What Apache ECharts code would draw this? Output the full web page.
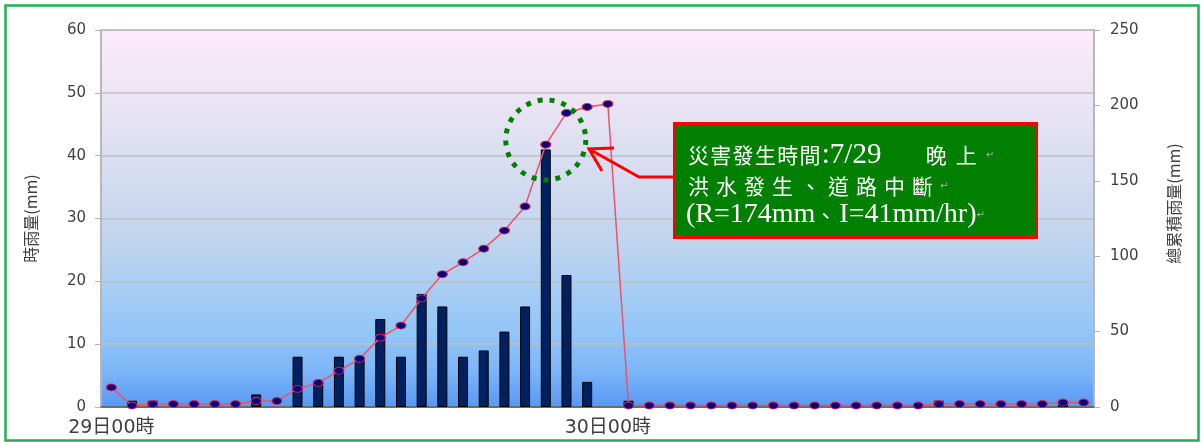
<!DOCTYPE html>
<html>
<head>
<meta charset="utf-8">
<title>時雨量</title>
<script src="https://cdn.jsdelivr.net/npm/echarts@6/dist/echarts.min.js"></script>
<style>
  html, body { margin: 0; padding: 0; background: #fff; }
  #chart { width: 1201px; height: 442px; }
</style>
</head>
<body>
<div id="chart"></div>
<script>
// 時間軸: 29日00時 ~ 30日23時
var days = ['29日', '30日'];
var hours = [];
days.forEach(function (d) {
  for (var h = 0; h < 24; h++) {
    hours.push(d + (h < 10 ? '0' + h : h) + '時');
  }
});

// 時雨量 (mm)
var hourlyRain = [
  0, 1, 1, 0, 0, 0, 0, 2, 0, 8, 4, 8, 8, 14, 8, 18, 16, 8, 9, 12, 16, 41, 21, 4,
  0, 1, 0, 0, 0, 0, 0, 0, 0, 0, 0, 0, 0, 0, 0, 0, 1, 0, 0, 0, 0, 0, 1, 0
];

// 總累積雨量 (mm)
var totalRain = [
  13, 1, 2, 2, 2, 2, 2, 4, 4, 12, 16, 24, 32, 46, 54, 72, 88, 96, 105, 117, 133, 174, 195, 199,
  201, 1, 1, 1, 1, 1, 1, 1, 1, 1, 1, 1, 1, 1, 1, 1, 2, 2, 2, 2, 2, 2, 3, 3
];

var leftTicks = { min: 0, max: 60, interval: 10 };
var rightTicks = { min: 0, max: 250, interval: 50 };

var cjk = '"Noto Sans CJK TC", "Noto Sans CJK SC", sans-serif';
var serif = '"Liberation Serif", "Noto Sans CJK TC", serif';
var labelFont = '"DejaVu Sans", "Noto Sans CJK TC", sans-serif';

var myChart = echarts.init(document.getElementById('chart'));

// 0 mm 的柱子不畫邊框
var barData = hourlyRain.map(function (v) {
  return v === 0 ? { value: v, itemStyle: { borderWidth: 0 } } : v;
});

var option = {
  animation: false,
  backgroundColor: '#fff',
  grid: {
    left: 101,
    right: 107,
    top: 30,
    bottom: 35,
    show: true,
    borderColor: '#b4b4b4',
    borderWidth: 1.5,
    backgroundColor: new echarts.graphic.LinearGradient(0, 0, 0, 1, [
      { offset: 0, color: '#fdeafa' },
      { offset: 0.18, color: '#ece5f4' },
      { offset: 0.55, color: '#c2d5ee' },
      { offset: 0.8, color: '#93c6f8' },
      { offset: 0.9, color: '#7db6f8' },
      { offset: 1, color: '#5898f5' }
    ])
  },
  xAxis: {
    type: 'category',
    data: hours,
    boundaryGap: true,
    axisLine: { lineStyle: { color: '#505050', width: 1.5 } },
    axisTick: { inside: true, length: 4, lineStyle: { color: '#303030' } },
    axisLabel: {
      interval: 23,
      margin: 12,
      color: '#404040',
      fontSize: 19,
      fontFamily: labelFont
    },
    splitLine: { show: false }
  },
  yAxis: [
    {
      type: 'value',
      min: leftTicks.min,
      max: leftTicks.max,
      interval: leftTicks.interval,
      name: '時雨量(mm)',
      nameLocation: 'middle',
      nameGap: 62,
      nameTextStyle: { color: '#404040', fontSize: 16, fontFamily: cjk },
      axisLine: { show: true, lineStyle: { color: '#b4b4b4', width: 1.5 } },
      axisTick: { show: true, length: 6, lineStyle: { color: '#b4b4b4' } },
      axisLabel: { margin: 15, color: '#404040', fontSize: 15, fontFamily: labelFont },
      splitLine: { lineStyle: { color: '#bfbfbf', width: 1.5 } }
    },
    {
      type: 'value',
      min: rightTicks.min,
      max: rightTicks.max,
      interval: rightTicks.interval,
      name: '總累積雨量(mm)',
      nameLocation: 'middle',
      nameRotate: 90,
      nameGap: 72,
      nameTextStyle: { color: '#404040', fontSize: 16, fontFamily: cjk, padding: [0, 0, 0, 30] },
      axisLine: { show: true, lineStyle: { color: '#b4b4b4', width: 1.5 } },
      axisTick: { show: true, length: 6, lineStyle: { color: '#b4b4b4' } },
      axisLabel: { margin: 16, color: '#404040', fontSize: 15, fontFamily: labelFont },
      splitLine: { show: false }
    }
  ],
  series: [
    {
      name: '時雨量',
      type: 'bar',
      yAxisIndex: 0,
      data: barData,
      barWidth: 10,
      itemStyle: { color: '#002060', borderColor: '#000', borderWidth: 1 },
      z: 2
    },
    {
      name: '總累積雨量',
      type: 'line',
      yAxisIndex: 1,
      data: totalRain,
      symbol: 'circle',
      symbolSize: [10, 7],
      showAllSymbol: true,
      lineStyle: { color: '#f0506a', width: 1.5 },
      itemStyle: { color: '#000080', borderColor: '#e8204a', borderWidth: 1 },
      z: 3
    }
  ]
};

myChart.setOption(option);

// 註解: 圈出最大時雨量位置
var c = myChart.convertToPixel({ xAxisIndex: 0, yAxisIndex: 0 }, [21, 42.5]);

function boxed(chars, style) {
  return chars.split('').map(function (ch) { return '{' + style + '|' + ch + '}'; }).join('');
}

myChart.setOption({
  graphic: [
    {
      type: 'rect',
      shape: { x: 5.5, y: 5.5, width: 1193, height: 435 },
      style: { fill: 'none', stroke: '#1fb250', lineWidth: 2.5 },
      silent: true,
      z: 100
    },
    {
      type: 'circle',
      shape: { cx: c[0], cy: c[1], r: 40 },
      style: { fill: 'none', stroke: '#008000', lineWidth: 5, lineDash: [5, 7] },
      z: 100
    },
    {
      type: 'polyline',
      shape: { points: [[673, 177], [639, 177], [589, 149]] },
      style: { stroke: '#ff0000', lineWidth: 3, fill: 'none' },
      z: 100
    },
    {
      type: 'polyline',
      shape: { points: [[614, 148], [589, 149], [602, 171]] },
      style: { stroke: '#ff0000', lineWidth: 3, fill: 'none' },
      z: 100
    },
    {
      type: 'rect',
      shape: { x: 674.5, y: 123.5, width: 362, height: 114 },
      style: { fill: '#007f00', stroke: '#ff0000', lineWidth: 3 },
      z: 100
    },
    {
      type: 'text',
      x: 688,
      y: 155,
      z: 101,
      style: {
        text: boxed('災害發生時間', 'a') + '{b|:7/29}{c|晚}{c|上}{r|↵}',
        verticalAlign: 'middle',
        fill: '#fff',
        rich: {
          a: { fontSize: 21, fontFamily: cjk, fill: '#fff', width: 22.3 },
          b: { fontSize: 29, fontFamily: serif, fill: '#fff', width: 104 },
          c: { fontSize: 21, fontFamily: cjk, fill: '#fff', width: 30 },
          r: { fontSize: 10, fontFamily: labelFont, fill: '#b0b0b0' }
        }
      }
    },
    {
      type: 'text',
      x: 688,
      y: 186,
      z: 101,
      style: {
        text: boxed('洪水發生、道路中斷', 'd') + '{r|↵}',
        verticalAlign: 'middle',
        fill: '#fff',
        rich: {
          d: { fontSize: 21, fontFamily: cjk, fill: '#fff', width: 28 },
          r: { fontSize: 10, fontFamily: labelFont, fill: '#b0b0b0' }
        }
      }
    },
    {
      type: 'text',
      x: 686,
      y: 215,
      z: 101,
      style: {
        text: '{e|(R=174mm}{f|、}{e|I=41mm/hr)}{r|↵}',
        verticalAlign: 'middle',
        fill: '#fff',
        rich: {
          e: { fontSize: 28, fontFamily: serif, fill: '#fff' },
          f: { fontSize: 21, fontFamily: cjk, fill: '#fff', width: 24 },
          r: { fontSize: 10, fontFamily: labelFont, fill: '#b0b0b0' }
        }
      }
    }
  ]
});
</script>
</body>
</html>
